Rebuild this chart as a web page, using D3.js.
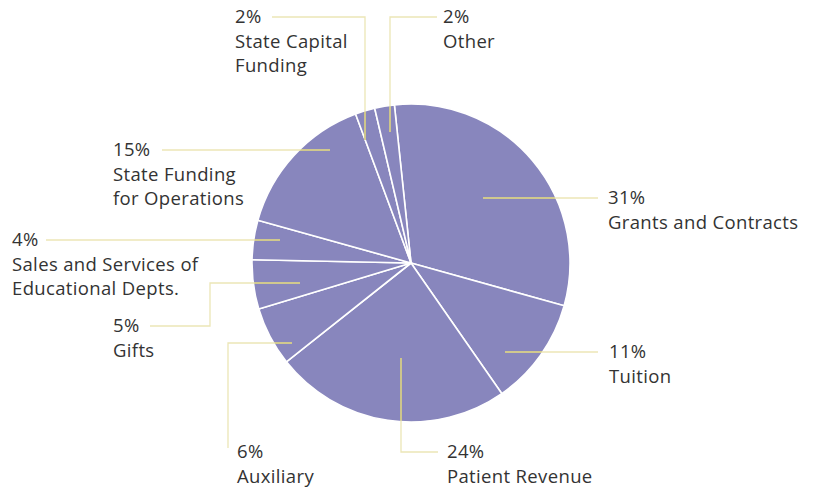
<!DOCTYPE html>
<html lang="en">
<head>
<meta charset="UTF-8">
<title>Revenue sources pie</title>
<script src="https://d3js.org/d3.v7.min.js"></script>
<style>
body { margin: 0; background: #ffffff; }
svg { display: block; }
.label { font-family: "Open Sans", "Noto Sans", sans-serif; font-size: 18.5px; letter-spacing: 0.35px; fill: #333333; }
</style>
</head>
<body>
<svg id="chart" width="818" height="488"></svg>
<script>

// data (clockwise from the top)
const categories = ["Grants and Contracts", "Tuition", "Patient Revenue", "Auxiliary", "Gifts",
    "Sales and Services of Educational Depts.", "State Funding for Operations", "State Capital Funding", "Other"];
const values = [31, 11, 24, 6, 5, 4, 15, 2, 2];
const labelLines = [
    ["Grants and Contracts"],
    ["Tuition"],
    ["Patient Revenue"],
    ["Auxiliary"],
    ["Gifts"],
    ["Sales and Services of", "Educational Depts."],
    ["State Funding", "for Operations"],
    ["State Capital", "Funding"],
    ["Other"]
];

const width = 818, height = 488;
const cx = 411, cy = 263, radius = 159;

const svg = d3.select("#chart");
const g = svg.append("g").attr("transform", "translate(" + cx + "," + cy + ")");

// pie layout, first slice starts a bit left of 12 o'clock
const pie = d3.pie().sort(null).value(d => d).startAngle(-6 * Math.PI / 180).endAngle(354 * Math.PI / 180);
const arcs = pie(values);
const arc = d3.arc().innerRadius(0).outerRadius(radius);

g.selectAll("path.slice")
    .data(arcs)
    .enter()
    .append("path")
    .attr("class", "slice")
    .attr("d", arc)
    .attr("fill", "#8886bd")
    .attr("stroke", "#ffffff")
    .attr("stroke-width", 1.6)
    .attr("stroke-linejoin", "round");

// label layout: leader line points (page coords) and text position
const layout = [
    { pts: [[483, 198], [598, 198]], tx: 608, ty: 198 },
    { pts: [[505, 352], [598, 352]], tx: 609, ty: 352 },
    { pts: [[401, 358], [401, 452], [438, 452]], tx: 447, ty: 452 },
    { pts: [[292, 343], [228, 343], [228, 448]], tx: 237, ty: 452 },
    { pts: [[300, 283], [210, 283], [210, 326], [150, 326]], tx: 113, ty: 326 },
    { pts: [[280, 240], [46, 240]], tx: 12, ty: 240 },
    { pts: [[330, 150], [162, 150]], tx: 113, ty: 150 },
    { pts: [[365, 140], [365, 17], [272, 17]], tx: 235, ty: 17 },
    { pts: [[390, 132], [390, 17], [437, 17]], tx: 443, ty: 17 }
];

const line = d3.line();

// clip for the part of the leaders inside the pie
svg.append("clipPath").attr("id", "pieclip")
    .append("circle").attr("cx", cx).attr("cy", cy).attr("r", radius - 1);

const leaders = svg.append("g");
leaders.selectAll("path.lead")
    .data(layout)
    .enter()
    .append("path")
    .attr("class", "lead")
    .attr("d", d => line(d.pts))
    .attr("fill", "none")
    .attr("stroke", "#ece6b6")
    .attr("stroke-width", 1.3);

leaders.append("g").attr("clip-path", "url(#pieclip)")
    .selectAll("path")
    .data(layout)
    .enter()
    .append("path")
    .attr("d", d => line(d.pts))
    .attr("fill", "none")
    .attr("stroke", "#cfc680")
    .attr("stroke-width", 1.6);

// labels
const labels = svg.selectAll("text.label")
    .data(layout)
    .enter()
    .append("text")
    .attr("class", "label")
    .attr("x", d => d.tx)
    .attr("y", d => d.ty + 6);

labels.append("tspan")
    .attr("x", d => d.tx)
    .text((d, i) => values[i] + "%");

labels.each(function (d, i) {
    const t = d3.select(this);
    labelLines[i].forEach(function (s) {
        t.append("tspan").attr("x", d.tx).attr("dy", 24.5).text(s);
    });
});

</script>
</body>
</html>
